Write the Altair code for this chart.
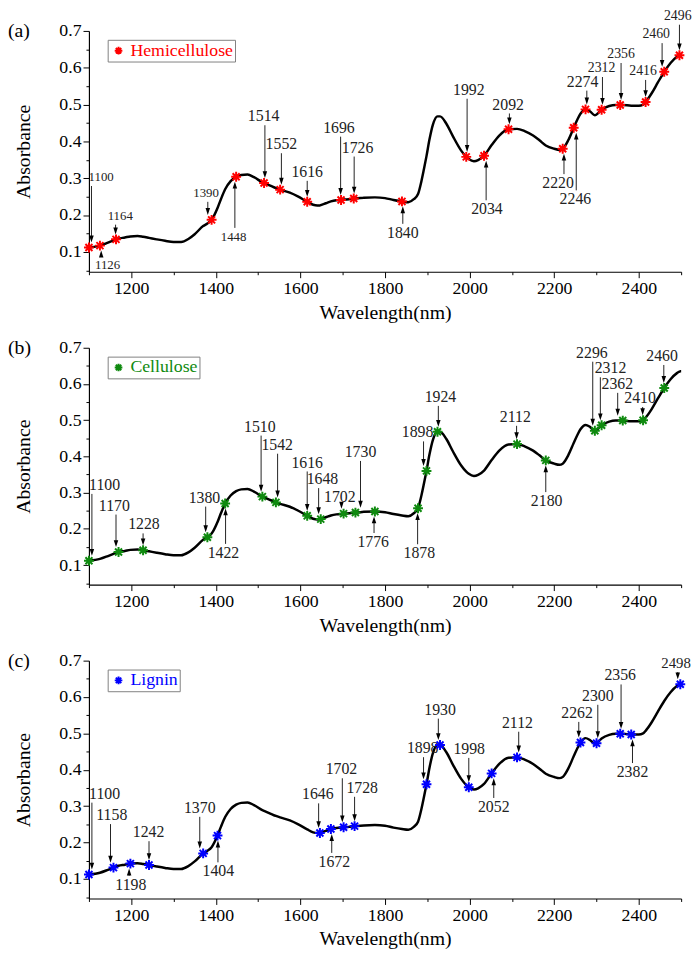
import altair as alt
import pandas as pd

SERIF = "Liberation Serif"

# ---- spectrum ----
wavelength = [1100, 1126, 1145, 1158, 1164, 1170, 1185, 1198, 1215, 1228, 1242, 1260, 1280,
              1300, 1318, 1335, 1350, 1370, 1380, 1390, 1404, 1412, 1422, 1435, 1448, 1460,
              1475, 1490, 1510, 1514, 1530, 1542, 1552, 1575, 1595, 1616, 1630, 1640, 1646,
              1648, 1660, 1672, 1685, 1696, 1702, 1715, 1726, 1728, 1730, 1750, 1776, 1800,
              1820, 1840, 1855, 1868, 1878, 1886, 1892, 1898, 1905, 1913, 1924, 1930, 1945,
              1960, 1980, 1992, 1998, 2010, 2020, 2034, 2052, 2070, 2092, 2112, 2130, 2150,
              2165, 2180, 2200, 2212, 2220, 2233, 2246, 2255, 2262, 2274, 2285, 2296, 2300,
              2312, 2330, 2345, 2356, 2362, 2382, 2400, 2410, 2416, 2430, 2445, 2460, 2475,
              2490, 2496, 2498, 2500]
absorbance = [0.112, 0.117, 0.125, 0.131, 0.134, 0.136, 0.139, 0.142, 0.143, 0.141, 0.138, 0.134, 0.130,
              0.127, 0.127, 0.135, 0.148, 0.170, 0.177, 0.187, 0.219, 0.243, 0.270, 0.292, 0.304, 0.309,
              0.310, 0.303, 0.289, 0.287, 0.279, 0.273, 0.269, 0.261, 0.250, 0.236, 0.228, 0.226, 0.226,
              0.227, 0.232, 0.237, 0.240, 0.241, 0.242, 0.243, 0.245, 0.245, 0.245, 0.247, 0.248, 0.246,
              0.241, 0.237, 0.235, 0.243, 0.257, 0.292, 0.325, 0.360, 0.405, 0.445, 0.468, 0.468, 0.448,
              0.415, 0.375, 0.358, 0.352, 0.346, 0.349, 0.361, 0.390, 0.416, 0.433, 0.434, 0.428, 0.416,
              0.403, 0.389, 0.380, 0.377, 0.380, 0.403, 0.437, 0.460, 0.475, 0.487, 0.481, 0.471, 0.473,
              0.486, 0.496, 0.499, 0.499, 0.499, 0.497, 0.497, 0.500, 0.507, 0.530, 0.560, 0.589, 0.613,
              0.630, 0.634, 0.635, 0.635]

# ---- (a) hemicellulose ----
hemi_w = [1100, 1126, 1164, 1390, 1448, 1514, 1552, 1616, 1696, 1726, 1840, 1992, 2034, 2092,
          2220, 2246, 2274, 2312, 2356, 2416, 2460, 2496]
hemi_a = [0.112, 0.117, 0.134, 0.187, 0.304, 0.287, 0.269, 0.236, 0.241, 0.245, 0.237, 0.358,
          0.361, 0.433, 0.380, 0.437, 0.487, 0.486, 0.499, 0.507, 0.589, 0.634]
hemi_arrow_x = [1106, 1129, 1163, 1381, 1445, 1516, 1555, 1616, 1695, 1727, 1842, 1994, 2039, 2094,
                2223, 2252, 2277, 2314, 2358, 2416, 2455, 2496]
hemi_label_x = [1129, 1144, 1174, 1377, 1442, 1513, 1555, 1616, 1691, 1735, 1842, 1998, 2041, 2091,
                2209, 2250, 2267, 2312, 2358, 2410, 2441, 2492]
hemi_label_y = [0.303, 0.063, 0.198, 0.260, 0.141, 0.468, 0.392, 0.317, 0.437, 0.383, 0.152, 0.540,
                0.216, 0.500, 0.287, 0.243, 0.562, 0.599, 0.637, 0.591, 0.691, 0.741]
hemi_dir = ["d", "u", "d", "d", "u", "d", "d", "d", "d", "d", "u", "d", "u", "d",
            "u", "u", "d", "d", "d", "d", "d", "d"]
hemi_fs = [13, 13, 13, 13, 13, 16, 16, 16, 16, 16, 16, 16, 16, 16, 16, 16, 16, 14, 14, 14, 14, 14]

# ---- (b) cellulose ----
cell_w = [1100, 1170, 1228, 1380, 1422, 1510, 1542, 1616, 1648, 1702, 1730, 1776, 1878, 1898,
          1924, 2112, 2180, 2296, 2312, 2362, 2410, 2460]
cell_a = [0.112, 0.136, 0.141, 0.177, 0.270, 0.289, 0.273, 0.236, 0.227, 0.242, 0.245, 0.248,
          0.257, 0.360, 0.468, 0.434, 0.389, 0.471, 0.486, 0.499, 0.500, 0.589]
cell_arrow_x = [1107, 1164, 1228, 1376, 1423, 1507, 1546, 1616, 1643, 1697, 1742, 1774, 1877, 1891,
                1926, 2111, 2180, 2291, 2309, 2350, 2409, 2459]
cell_label_x = [1137, 1160, 1230, 1373, 1418, 1504, 1545, 1616, 1652, 1693, 1742, 1772, 1881, 1877,
                1931, 2108, 2182, 2289, 2333, 2349, 2403, 2455]
cell_label_y = [0.321, 0.264, 0.212, 0.286, 0.134, 0.482, 0.432, 0.383, 0.337, 0.289, 0.412, 0.164,
                0.133, 0.466, 0.564, 0.509, 0.277, 0.686, 0.643, 0.600, 0.561, 0.677]
cell_dir = ["d", "d", "d", "d", "u", "d", "d", "d", "d", "d", "d", "u", "u", "d",
            "d", "d", "u", "d", "d", "d", "d", "d"]
cell_fs = [16] * 22

# ---- (c) lignin ----
lig_w = [1100, 1158, 1198, 1242, 1370, 1404, 1646, 1672, 1702, 1728, 1898, 1930, 1998, 2052,
         2112, 2262, 2300, 2356, 2382, 2498]
lig_a = [0.112, 0.131, 0.142, 0.138, 0.170, 0.219, 0.226, 0.237, 0.242, 0.245, 0.360, 0.468,
         0.352, 0.390, 0.434, 0.475, 0.473, 0.499, 0.497, 0.635]
lig_arrow_x = [1107, 1151, 1195, 1242, 1362, 1405, 1643, 1674, 1699, 1728, 1891, 1926, 1998, 2057,
               2116, 2258, 2303, 2358, 2385, 2492]
lig_label_x = [1137, 1154, 1199, 1241, 1362, 1406, 1641, 1680, 1697, 1746, 1889, 1930, 1999, 2057,
               2113, 2254, 2303, 2356, 2385, 2488]
lig_label_y = [0.334, 0.275, 0.084, 0.228, 0.295, 0.121, 0.332, 0.147, 0.401, 0.350, 0.459, 0.565,
               0.457, 0.298, 0.529, 0.556, 0.603, 0.659, 0.394, 0.693]
lig_dir = ["d", "d", "u", "d", "d", "u", "d", "u", "d", "d", "d", "d", "d", "u",
           "d", "d", "d", "d", "u", "d"]
lig_fs = [16] * 19 + [15]

x_ticks = list(range(1100, 2501, 100))
y_ticks = [round(0.05 * i, 2) for i in range(1, 15)]

ASTER = "M-1,0L1,0M0,-1L0,1M-0.71,-0.71L0.71,0.71M-0.71,0.71L0.71,-0.71"
HEAD_DOWN = "M0,1L-0.65,-1L0.65,-1Z"
HEAD_UP = "M0,-1L-0.65,1L0.65,1Z"

spec_df = pd.DataFrame({"wl": wavelength, "ab": absorbance})

xscale = alt.Scale(domain=[1100, 2500], nice=False, zero=False)
yscale = alt.Scale(domain=[0.046, 0.7], nice=False, zero=False)

xaxis = alt.Axis(
    title="Wavelength(nm)", values=x_ticks, format="d",
    labelExpr="datum.value % 200 == 0 ? datum.label : ''",
    tickSize={"condition": {"test": "datum.value % 200 == 0", "value": 6}, "value": 3},
    grid=False, labelFont=SERIF, labelFontSize=18, labelColor="black", labelPadding=2,
    titleFont=SERIF, titleFontSize=20, titleFontWeight="normal", titleColor="black",
    titlePadding=5, domainColor="black", tickColor="black", domainWidth=1.2,
    labelFlush=False, labelOverlap=False,
)
yaxis = alt.Axis(
    title="Absorbance", values=y_ticks,
    labelExpr="round(datum.value * 100) % 10 == 0 ? format(datum.value, '.1f') : ''",
    tickSize={"condition": {"test": "round(datum.value * 100) % 10 == 0", "value": 6}, "value": 3},
    grid=False, labelFont=SERIF, labelFontSize=18, labelColor="black", labelPadding=2,
    titleFont=SERIF, titleFontSize=20, titleFontWeight="normal", titleColor="black",
    titlePadding=26, domainColor="black", tickColor="black", domainWidth=1.2,
    labelFlush=False, labelOverlap=False,
)


def X(field):
    return alt.X(field, type="quantitative", scale=xscale, axis=xaxis)


def Y(field):
    return alt.Y(field, type="quantitative", scale=yscale, axis=yaxis)


def panel(tag, name, color, mw, ma, ax, lx, ly, dirs, fs, height):
    df = pd.DataFrame({
        "wl": mw, "ab": ma, "ax": ax, "lx": lx, "ly": ly, "dir": dirs, "fs": fs,
        "t": [str(w) for w in mw], "series": [name] * len(mw),
    })
    line = alt.Chart(spec_df).mark_line(
        color="black", strokeWidth=2.5, interpolate="monotone"
    ).encode(x=X("wl"), y=Y("ab"))

    down_rule = alt.Chart(df).transform_filter("datum.dir == 'd'").mark_rule(
        color="#222", strokeWidth=1, yOffset=9, y2Offset=-8
    ).encode(x=X("ax"), y=Y("ly"), y2=alt.Y2("ab"))
    down_head = alt.Chart(df).transform_filter("datum.dir == 'd'").mark_point(
        shape=HEAD_DOWN, filled=True, size=49, color="black", opacity=1, yOffset=-8.5
    ).encode(x=X("ax"), y=Y("ab"))
    up_rule = alt.Chart(df).transform_filter("datum.dir == 'u'").mark_rule(
        color="#222", strokeWidth=1, yOffset=-9, y2Offset=8
    ).encode(x=X("ax"), y=Y("ly"), y2=alt.Y2("ab"))
    up_head = alt.Chart(df).transform_filter("datum.dir == 'u'").mark_point(
        shape=HEAD_UP, filled=True, size=49, color="black", opacity=1, yOffset=8.5
    ).encode(x=X("ax"), y=Y("ab"))

    labels = alt.Chart(df).mark_text(
        font=SERIF, color="#222", baseline="middle", align="center"
    ).encode(x=X("lx"), y=Y("ly"), text="t:N", size=alt.Size("fs:Q", scale=None, legend=None))

    pts = alt.Chart(df).mark_point(
        shape=ASTER, filled=False, size=100, strokeWidth=2, opacity=1
    ).encode(
        x=X("wl"), y=Y("ab"),
        color=alt.Color(
            "series:N",
            scale=alt.Scale(domain=[name], range=[color]),
            legend=alt.Legend(
                orient="none", legendX=19, legendY=9, title=None,
                strokeColor="#808080", fillColor="white", padding=2, cornerRadius=0,
                labelFont=SERIF, labelFontSize=18, labelColor=color, labelOffset=3,
                symbolType=ASTER, symbolSize=60, symbolStrokeWidth=2, symbolStrokeColor=color,
                symbolFillColor="transparent",
            ),
        ),
    )

    tag_text = alt.Chart(pd.DataFrame({"t": [tag]})).mark_text(
        font=SERIF, fontSize=20, color="black", align="left", baseline="middle"
    ).encode(x=alt.value(-82), y=alt.value(0), text="t:N")

    return alt.layer(line, down_rule, down_head, up_rule, up_head, labels, pts, tag_text).properties(
        width=600, height=height
    )


pa = panel("(a)", "Hemicellulose", "#ff0000", hemi_w, hemi_a, hemi_arrow_x, hemi_label_x,
           hemi_label_y, hemi_dir, hemi_fs, 244)
pb = panel("(b)", "Cellulose", "#0f8a0f", cell_w, cell_a, cell_arrow_x, cell_label_x,
           cell_label_y, cell_dir, cell_fs, 240)
pc = panel("(c)", "Lignin", "#0000ff", lig_w, lig_a, lig_arrow_x, lig_label_x,
           lig_label_y, lig_dir, lig_fs, 241)

chart = alt.vconcat(pa, pb, pc, spacing=77, bounds="flush").resolve_scale(
    color="independent"
).resolve_legend(color="independent").properties(
    padding={"top": -6, "left": 0, "right": 0, "bottom": 0}, background="white"
).configure_view(stroke=None)

chart.save("out.html", embed_options={"renderer": "svg", "actions": False})
